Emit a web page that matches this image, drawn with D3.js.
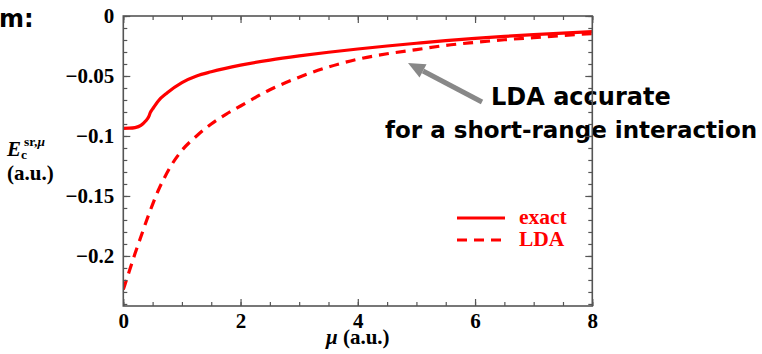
<!DOCTYPE html>
<html>
<head>
<meta charset="utf-8">
<script src="https://cdn.jsdelivr.net/npm/d3@7/dist/d3.min.js"></script>
<style>
  html, body { margin: 0; padding: 0; background: #fff; }
  svg { display: block; }
  .tick text { font-family: "Liberation Serif", "Times New Roman", serif; font-weight: bold; font-size: 21px; fill: #000; }
</style>
</head>
<body>
<svg id="chart" width="762" height="354"></svg>
<script>
// Short-range correlation energy versus range-separation parameter mu
const muExact = [0, 0.1, 0.2, 0.3, 0.38, 0.44, 0.46, 0.5, 0.6, 0.75, 1.0, 1.25, 1.5, 2.0, 2.5, 3.0, 3.5, 4.0, 4.5, 5.0, 5.5, 6.0, 6.5, 7.0, 7.5, 8.0];
const ecExact = [-0.0936, -0.0935, -0.0930, -0.0912, -0.0876, -0.0832, -0.0805, -0.0775, -0.0706, -0.0640, -0.0555, -0.0500, -0.0465, -0.0410, -0.0368, -0.0333, -0.0302, -0.0275, -0.0250, -0.0227, -0.0205, -0.0186, -0.0170, -0.0156, -0.0143, -0.0131];

const muLDA = [0, 0.1, 0.2, 0.3, 0.4, 0.5, 0.6, 0.7, 0.8, 1.0, 1.25, 1.5, 1.75, 2.0, 2.5, 3.0, 3.5, 4.0, 4.5, 5.0, 5.5, 6.0, 6.5, 7.0, 7.5, 8.0];
const ecLDA = [-0.228, -0.213, -0.198, -0.184, -0.170, -0.157, -0.145, -0.135, -0.126, -0.112, -0.100, -0.090, -0.082, -0.075, -0.0615, -0.051, -0.0425, -0.036, -0.0315, -0.028, -0.0245, -0.022, -0.0198, -0.018, -0.0162, -0.0146];

const xTickValues = [0, 2, 4, 6, 8];
const xTickLabels = ["0", "2", "4", "6", "8"];
const yTickValues = [0, -0.05, -0.1, -0.15, -0.2];
const yTickLabels = ["0", "\u22120.05", "\u22120.1", "\u22120.15", "\u22120.2"];

const seriesNames = ["exact", "LDA"];

const plotLeft = 123.3, plotRight = 592.3, plotTop = 16, plotBottom = 306;
const svg = d3.select("#chart");

const x = d3.scaleLinear().domain([0, 8]).range([plotLeft, plotRight]);
const y = d3.scaleLinear().domain([-0.2417, 0]).range([plotBottom, plotTop]);

const red = "#ff0000";
const frameColor = "#555";

// clip region for the curves
svg.append("defs").append("clipPath").attr("id", "plotClip")
  .append("rect").attr("x", plotLeft).attr("y", plotTop)
  .attr("width", plotRight - plotLeft).attr("height", plotBottom - plotTop);

// curves
const line = d3.line().x(d => x(d[0])).y(d => y(d[1])).curve(d3.curveMonotoneX);
const g = svg.append("g").attr("clip-path", "url(#plotClip)");
g.append("path")
  .datum(muLDA.map((m, i) => [m, ecLDA[i]]))
  .attr("d", line).attr("fill", "none").attr("stroke", red)
  .attr("stroke-width", 3.2).attr("stroke-dasharray", "10,7");
g.append("path")
  .datum(muExact.map((m, i) => [m, ecExact[i]]))
  .attr("d", line).attr("fill", "none").attr("stroke", red)
  .attr("stroke-width", 3.2);

// legend
const legend = svg.append("g");
[[218, null], [240, "10,7"]].forEach((s, i) => {
  legend.append("line")
    .attr("x1", 457).attr("x2", 505).attr("y1", s[0]).attr("y2", s[0])
    .attr("stroke", red).attr("stroke-width", 3.2)
    .attr("stroke-dasharray", s[1]);
  legend.append("text")
    .attr("x", 519).attr("y", s[0] + 6)
    .attr("font-family", "Liberation Serif, serif").attr("font-weight", "bold")
    .attr("font-size", 21.5).attr("fill", red)
    .text(seriesNames[i]);
});

// annotation arrow
const tail = [482, 102], tip = [408, 63];
const dx = tip[0] - tail[0], dy = tip[1] - tail[1];
const len = Math.hypot(dx, dy), ux = dx / len, uy = dy / len;
const headLen = 17, headHalf = 7.5;
const base = [tip[0] - ux * headLen, tip[1] - uy * headLen];
svg.append("line")
  .attr("x1", tail[0]).attr("y1", tail[1]).attr("x2", base[0]).attr("y2", base[1])
  .attr("stroke", "#888").attr("stroke-width", 5);
svg.append("polygon")
  .attr("points", [tip, [base[0] - uy * headHalf, base[1] + ux * headHalf], [base[0] + uy * headHalf, base[1] - ux * headHalf]].map(p => p.join(",")).join(" "))
  .attr("fill", "#888");

// annotation text
svg.append("text").attr("x", 491).attr("y", 105)
  .attr("font-family", "DejaVu Sans, sans-serif").attr("font-weight", "bold")
  .attr("font-size", 24).attr("fill", "#000")
  .text("LDA accurate");
svg.append("text").attr("x", 385).attr("y", 138)
  .attr("font-family", "DejaVu Sans, sans-serif").attr("font-weight", "bold")
  .attr("font-size", 23).attr("fill", "#000")
  .text("for a short-range interaction");

// fragment of heading at top left
svg.append("text").attr("x", -1).attr("y", 27)
  .attr("font-family", "DejaVu Sans, sans-serif").attr("font-weight", "bold")
  .attr("font-size", 24).attr("fill", "#000")
  .text("m:");

// axes with inward ticks on all four sides
const xMinor = d3.range(0, 8.001, 0.5);
const yMinor = d3.range(0, -0.2401, -0.01).map(v => +v.toFixed(2));

function styleAxis(sel) {
  sel.select(".domain").remove();
  sel.selectAll(".tick line").attr("stroke", frameColor).attr("stroke-width", 1.2);
}

svg.append("g").attr("transform", `translate(0,${plotBottom})`)
  .call(d3.axisBottom(x).tickValues(xMinor).tickSize(-4).tickFormat(""))
  .call(styleAxis);
svg.append("g").attr("transform", `translate(0,${plotBottom})`)
  .call(d3.axisBottom(x).tickValues(xTickValues).tickSize(-7).tickPadding(7)
    .tickFormat((d, i) => xTickLabels[i]))
  .call(styleAxis);
svg.append("g").attr("transform", `translate(0,${plotTop})`)
  .call(d3.axisTop(x).tickValues(xMinor).tickSize(-4).tickFormat(""))
  .call(styleAxis);
svg.append("g").attr("transform", `translate(0,${plotTop})`)
  .call(d3.axisTop(x).tickValues(xTickValues).tickSize(-7).tickFormat(""))
  .call(styleAxis);

svg.append("g").attr("transform", `translate(${plotLeft},0)`)
  .call(d3.axisLeft(y).tickValues(yMinor).tickSize(-4).tickFormat(""))
  .call(styleAxis);
svg.append("g").attr("transform", `translate(${plotLeft},0)`)
  .call(d3.axisLeft(y).tickValues(yTickValues).tickSize(-7).tickPadding(9)
    .tickFormat((d, i) => yTickLabels[i]))
  .call(styleAxis);
svg.append("g").attr("transform", `translate(${plotRight},0)`)
  .call(d3.axisRight(y).tickValues(yMinor).tickSize(-4).tickFormat(""))
  .call(styleAxis);
svg.append("g").attr("transform", `translate(${plotRight},0)`)
  .call(d3.axisRight(y).tickValues(yTickValues).tickSize(-7).tickFormat(""))
  .call(styleAxis);

// frame drawn last, over text
svg.append("rect")
  .attr("x", plotLeft).attr("y", plotTop)
  .attr("width", plotRight - plotLeft).attr("height", plotBottom - plotTop)
  .attr("fill", "none").attr("stroke", frameColor).attr("stroke-width", 1.6);

// axis titles
const serif = "Liberation Serif, serif";
const yl = svg.append("text").attr("x", 7).attr("y", 156)
  .attr("font-family", serif).attr("font-weight", "bold").attr("font-size", 21).attr("fill", "#000");
yl.append("tspan").attr("font-style", "italic").text("E");
yl.append("tspan").attr("font-size", 13.5).attr("dy", 3).text("c");
yl.append("tspan").attr("font-size", 13.5).attr("x", 24).attr("dy", -13).text("sr,");
yl.append("tspan").attr("font-size", 13.5).attr("font-style", "italic").text("\u03bc");
svg.append("text").attr("x", 7).attr("y", 180)
  .attr("font-family", serif).attr("font-weight", "bold").attr("font-size", 21).attr("fill", "#000")
  .text("(a.u.)");

const xl = svg.append("text").attr("x", (plotLeft + plotRight) / 2).attr("y", 344)
  .attr("text-anchor", "middle")
  .attr("font-family", serif).attr("font-weight", "bold").attr("font-size", 21).attr("fill", "#000");
xl.append("tspan").attr("font-style", "italic").text("\u03bc");
xl.append("tspan").text(" (a.u.)");
</script>
</body>
</html>
